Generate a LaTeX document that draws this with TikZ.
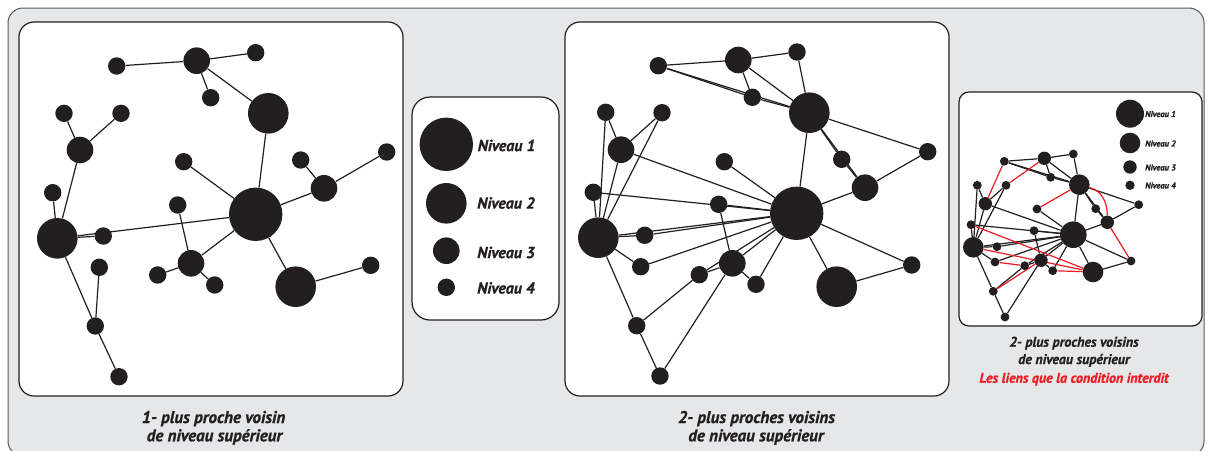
\documentclass[tikz,border=0pt]{standalone}
\usepackage{fontspec}
\newfontfamily\ptsans{PT Sans}[BoldItalicFeatures={FakeBold=0.8}]
\pgfdeclarelayer{back}
\pgfdeclarelayer{edges}
\pgfsetlayers{back,edges,main}
\definecolor{ink}{HTML}{231F20}
\definecolor{bggray}{HTML}{E6E7E8}
\definecolor{framegray}{HTML}{58595B}
\definecolor{forbid}{HTML}{ED1C24}
\tikzset{
  dot/.style={circle,fill=ink,draw=none,inner sep=0pt},
  n1/.style={dot,minimum size=53.4pt},
  n2/.style={dot,minimum size=40.6pt},
  n3/.style={dot,minimum size=26.6pt},
  n4/.style={dot,minimum size=17.4pt},
  m1/.style={dot,minimum size=26.6pt},
  m2/.style={dot,minimum size=20.6pt},
  m3/.style={dot,minimum size=13.4pt},
  m4/.style={dot,minimum size=8.8pt},
  edge/.style={draw=ink,line width=1.2pt},
  redge/.style={draw=forbid,line width=1.2pt},
  panel/.style={draw=ink,fill=white,line width=1.2pt,rounded corners=15pt},
  legtext/.style={anchor=west,inner sep=0pt,font=\ptsans\bfseries\itshape\fontsize{16}{18}\selectfont,text=ink},
  smalllegtext/.style={anchor=west,inner sep=0pt,font=\ptsans\bfseries\itshape\fontsize{8.5}{10}\selectfont,text=ink},
  captext/.style={anchor=base,inner sep=0pt,font=\ptsans\bfseries\itshape\fontsize{17}{19}\selectfont,text=ink},
  smallcap/.style={anchor=base,inner sep=0pt,font=\ptsans\bfseries\itshape\fontsize{14}{16}\selectfont,text=ink},
}
\begin{document}
\begin{tikzpicture}[x=1pt,y=-1pt]
\useasboundingbox (0,0) rectangle (1210,450);
\begin{pgfonlayer}{back}
  \draw[draw=framegray,fill=bggray,line width=1pt,rounded corners=15pt] (8,8) rectangle (1204,456);
  \draw[panel] (19,22) rectangle (403,396);
  \draw[panel] (565,22) rectangle (949,396);
  \draw[panel,rounded corners=18pt] (412,97) rectangle (559,320);
  \draw[panel,rounded corners=10pt] (959,92) rectangle (1202,326);
\end{pgfonlayer}

% ---------- panel 1 ----------
\node[n3] (aA) at (196.7,60.7) {};
\node[n4] (a1) at (116.7,66) {};
\node[n4] (a2) at (255.7,52.7) {};
\node[n4] (a3) at (210.7,97.7) {};
\node[n2] (aU) at (268.3,113.3) {};
\node[n4] (a4) at (64,113.3) {};
\node[n4] (a5) at (121,113.3) {};
\node[n3] (aL3) at (80,150) {};
\node[n4] (a6) at (183.7,161.7) {};
\node[n4] (a7) at (300.7,160) {};
\node[n4] (a8) at (386.7,152) {};
\node[n3] (aR) at (324,188.3) {};
\node[n4] (a9) at (52.7,192.7) {};
\node[n1] (aC) at (255.7,214.3) {};
\node[n4] (a10) at (177.7,205) {};
\node[n2] (aL) at (57.3,238.3) {};
\node[n4] (a11) at (103.3,236) {};
\node[n3] (aM) at (191,263.3) {};
\node[n4] (a12) at (157.7,275) {};
\node[n4] (a13) at (214.7,285) {};
\node[n4] (a14) at (99.3,267.3) {};
\node[n2] (aB) at (295.7,286.7) {};
\node[n4] (a15) at (370.7,265.3) {};
\node[n4] (a16) at (95.3,326) {};
\node[n4] (a17) at (119,376.7) {};

% ---------- panel 2 ----------
\node[n3] (bA) at (738.3,60) {};
\node[n4] (b1) at (658.3,65.7) {};
\node[n4] (b2) at (797,52) {};
\node[n4] (b3) at (752.3,97.3) {};
\node[n2] (bU) at (809.3,112.7) {};
\node[n4] (b4) at (605.7,112.3) {};
\node[n4] (b5) at (662,112.7) {};
\node[n3] (bL3) at (621,149.7) {};
\node[n4] (b6) at (724.3,161.7) {};
\node[n4] (b7) at (841.7,159.3) {};
\node[n4] (b8) at (927.7,151.7) {};
\node[n3] (bR) at (865,187.7) {};
\node[n4] (b9) at (593.3,192.3) {};
\node[n1] (bC) at (796.7,213.3) {};
\node[n4] (b10) at (718.7,204.3) {};
\node[n2] (bL) at (598.3,237.7) {};
\node[n4] (b11) at (644.7,235.3) {};
\node[n4] (b14) at (640.7,266.7) {};
\node[n3] (bM) at (732.3,263.3) {};
\node[n4] (b12) at (699.3,274.7) {};
\node[n4] (b13) at (756,284.3) {};
\node[n2] (bB) at (836.7,286.7) {};
\node[n4] (b15) at (911.7,265) {};
\node[n4] (b16) at (636.7,325.7) {};
\node[n4] (b17) at (660,376) {};

% ---------- panel 3 ----------
\node[m3] (cA) at (1044.3,158.3) {};
\node[m4] (c1) at (1004.3,161.3) {};
\node[m4] (c2) at (1073.3,154) {};
\node[m4] (c3) at (1050.7,177.3) {};
\node[m2] (cU) at (1079.3,184.7) {};
\node[m4] (c4) at (977.3,185.3) {};
\node[m4] (c5) at (1006,185.3) {};
\node[m3] (cL3) at (985.3,203.7) {};
\node[m4] (c6) at (1037,209) {};
\node[m4] (c7) at (1095.7,208.7) {};
\node[m4] (c8) at (1138.7,204.7) {};
\node[m3] (cR) at (1107.3,222.3) {};
\node[m4] (c9) at (971,224.7) {};
\node[m1] (cC) at (1073.3,234.7) {};
\node[m4] (c10) at (1034,230.7) {};
\node[m2] (cL) at (973.3,247.3) {};
\node[m4] (c11) at (997,246.7) {};
\node[m4] (c14) at (995,262) {};
\node[m3] (cM) at (1041,260.3) {};
\node[m4] (c12) at (1024.7,265.7) {};
\node[m4] (c13) at (1052.7,270.7) {};
\node[m2] (cB) at (1093,272) {};
\node[m4] (c15) at (1131,261) {};
\node[m4] (c16) at (993.3,291.3) {};
\node[m4] (c17) at (1005,317) {};

\begin{pgfonlayer}{edges}
  \foreach \p/\q in {aA/a1,aA/a2,aA/a3,aA/aU,aU/aC,a4/aL3,a5/aL3,aL3/aL,a9/aL,aL/a11,aL/aC,a6/aC,a10/aM,aM/aC,aM/a12,aM/a13,aC/aR,aR/a7,aR/a8,aC/aB,aB/a15,aL/a16,a14/a16,a16/a17}
    \draw[edge] (\p) -- (\q);
  \foreach \p/\q in {b1/bA,bA/b2,b1/b3,b1/bU,b3/bU,bA/b3,bA/bU,b2/bU,bU/bC,bU/b7,b7/bR,bU/bR,bU/b8,b8/bR,bR/bC,b6/bC,bL3/bC,b4/bL3,b5/bL3,b4/bL,b5/bL,bL3/bL,b9/bL,b9/bC,b10/bC,b10/bM,bL/b11,bL/bC,b11/bC,bL/b14,b14/bC,bM/bC,b12/bM,b12/bC,b13/bM,b13/bC,bC/bB,bC/b15,bB/b15,bL/b16,b16/b12,b16/b17,b17/bM}
    \draw[edge] (\p) -- (\q);
  \foreach \p/\q in {c1/cA,cA/c2,c1/c3,c1/cU,c3/cU,cA/c3,cA/cU,c2/cU,cU/cC,cU/c7,c7/cR,cU/cR,cU/c8,c8/cR,cR/cC,c6/cC,cL3/cC,c4/cL3,c5/cL3,c4/cL,c5/cL,cL3/cL,c9/cL,c9/cC,c10/cC,c10/cM,cL/c11,cL/cC,c11/cC,cL/c14,c14/cC,cM/cC,c12/cM,c12/cC,c13/cM,c13/cC,cC/cB,cC/c15,cB/c15,cL/c16,c16/c12,c16/c17,c17/cM}
    \draw[edge] (\p) -- (\q);
  \foreach \p/\q in {c1/cL3,cA/c5,cU/c6,cR/c15,c13/cB,c9/cB,cL/cB,c14/c12,c16/cM}
    \draw[redge] (\p) -- (\q);
  \draw[redge] (cU) to[out=-15,in=90] (cR);
\end{pgfonlayer}

% ---------- legend ----------
\node[n1] (g1) at (446.3,144.3) {};
\node[n2] (g2) at (446.3,203.3) {};
\node[n3] (g3) at (446.3,250.7) {};
\node[n4] (g4) at (446.3,287.3) {};
\node[legtext] (t1) at (477.5,145.5) {Niveau 1};
\node[legtext] (t2) at (477,203) {Niveau 2};
\node[legtext] (t3) at (477,252.5) {Niveau 3};
\node[legtext] (t4) at (477,288) {Niveau 4};

\node[dot,minimum size=28pt] (h1) at (1130,113.7) {};
\node[dot,minimum size=20.6pt] (h2) at (1130,143) {};
\node[dot,minimum size=13.4pt] (h3) at (1130,167) {};
\node[dot,minimum size=9.4pt] (h4) at (1130,185.3) {};
\node[smalllegtext] (u1) at (1145,114) {Niveau 1};
\node[smalllegtext] (u2) at (1145,143.5) {Niveau 2};
\node[smalllegtext] (u3) at (1145,167.5) {Niveau 3};
\node[smalllegtext] (u4) at (1145,185.5) {Niveau 4};

% ---------- captions ----------
\node[captext] (k1) at (213.5,423) {1- plus proche voisin};
\node[captext] (k2) at (214.5,441.3) {de niveau supérieur};
\node[captext] (k3) at (756.5,423) {2- plus proches voisins};
\node[captext] (k4) at (756,441.3) {de niveau supérieur};
\node[smallcap] (k5) at (1074,346.7) {2- plus proches voisins};
\node[smallcap] (k6) at (1074,364) {de niveau supérieur};
\node[smallcap,text=forbid] (k7) at (1074,382.7) {Les liens que la condition interdit};
\end{tikzpicture}
\end{document}
